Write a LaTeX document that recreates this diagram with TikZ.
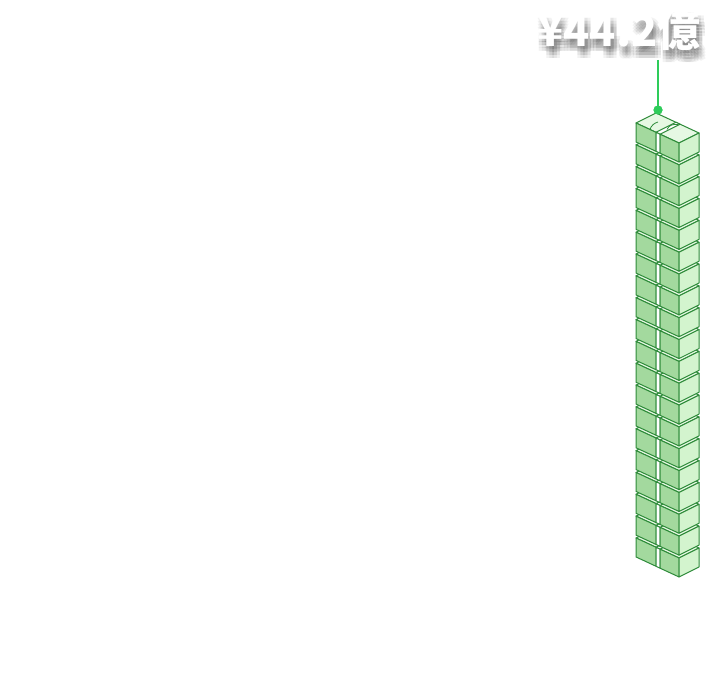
\documentclass[tikz,border=0pt]{standalone}
\usepackage{fontspec}
\newfontfamily\cjk{Noto Sans CJK JP}
\definecolor{edgegreen}{HTML}{2E8B3A}
\definecolor{faceL}{HTML}{A3D99E}
\definecolor{faceR}{HTML}{D3F4CE}
\definecolor{faceT}{HTML}{E6F8E3}
\definecolor{pincolor}{HTML}{2ECC5A}
\tikzset{
  boxface/.style={draw=edgegreen, line width=1pt, line join=round},
  labeltext/.style={font=\cjk\bfseries\fontsize{43}{50}\selectfont, anchor=base, inner sep=0pt},
}
\begin{document}
\begin{tikzpicture}[x=1pt,y=-1pt]
\fill[white] (0,0) rectangle (710,674);
\useasboundingbox (0,0) rectangle (710,674);
% stack of bundles, bottom layer first
\foreach \k in {19,18,...,0}{
  \pgfmathsetmacro{\yy}{123+21.84*\k}
  \begin{scope}[shift={(0,\yy)}]
    % top face
    \filldraw[boxface, fill=faceT] (636,0) -- (679,20) -- (699,10) -- (656,-10) -- cycle;
    \filldraw[boxface, fill=white] (656,9.3) -- (676,-0.7) -- (680,1.2) -- (660,11.2) -- cycle;
    % left face, left part
    \filldraw[boxface, fill=faceL] (636,0) -- (656,9.3) -- (656,28.3) -- (636,19) -- cycle;
    % band on left face
    \filldraw[boxface, fill=white] (656,9.3) -- (660,11.2) -- (660,30.2) -- (656,28.3) -- cycle;
    % left face, right part
    \filldraw[boxface, fill=faceL] (660,11.2) -- (679,20) -- (679,39) -- (660,30.2) -- cycle;
    % right face
    \filldraw[boxface, fill=faceR] (679,20) -- (699,10) -- (699,29) -- (679,39) -- cycle;
  \end{scope}
}
% curl lines on the top bundle
\begin{scope}[shift={(0,123)}]
  \draw[edgegreen, line width=0.8pt] (650,6.5) .. controls (651,3) and (654,0) .. (658,-1);
  \draw[edgegreen, line width=0.8pt] (667,6.5) .. controls (669,2) and (673,1) .. (678,1.5);
\end{scope}
% label with soft shadow
\foreach \dx in {0,3,6}{
  \foreach \dy in {3,6,9,12}{
    \node[labeltext, text=black, opacity=0.05] at (619+\dx,47+\dy) {¥44.2億};
  }
}
\node[labeltext, text=white] (label) at (619,47) {¥44.2億};
% pin
\coordinate (pintop) at (658,60);
\node[circle, fill=pincolor, inner sep=0pt, minimum size=9pt] (dot) at (658,110) {};
\draw[draw=pincolor, line width=1.5pt] (pintop) -- (dot.center);
\fill[pincolor] (dot.center) circle (4.5pt);
\end{tikzpicture}
\end{document}
